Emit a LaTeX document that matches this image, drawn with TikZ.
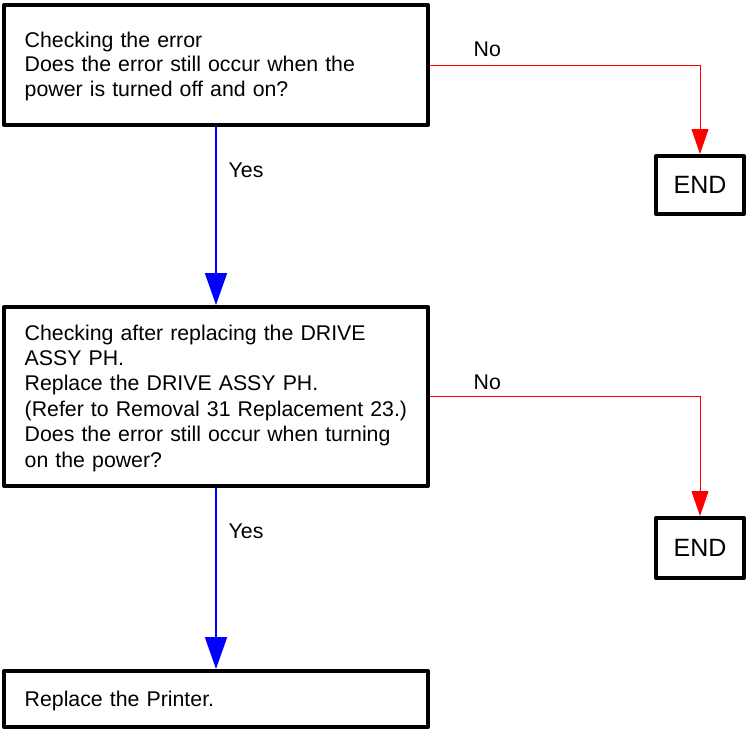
\documentclass[tikz,border=0pt]{standalone}
\usepackage{fontspec}
\setmainfont{Liberation Sans}
\usetikzlibrary{arrows.meta}
\begin{document}
\begin{tikzpicture}[x=1pt,y=-1pt,
  box/.style={draw=black,line width=4pt,fill=white,inner sep=0pt,rectangle,line join=round},
  endbox/.style={box,minimum width=88pt,font=\fontsize{25}{30}\selectfont},
  txt/.style={anchor=base west,inner sep=0pt,align=left,text width=400pt},
  lbl/.style={anchor=base west,inner sep=0pt},
  yesarrow/.style={draw=blue,line width=2pt,-{Triangle[width=22pt,length=32pt]}},
  noarrow/.style={draw=red,line width=1pt,-{Triangle[width=17pt,length=25pt]}},
  every node/.style={font=\fontsize{21.3}{24.5}\selectfont}]
\useasboundingbox (0,0) rectangle (746,731);
% boxes
\node[box,minimum width=424pt,minimum height=120pt] (b1) at (216,65) {};
\node[box,minimum width=424pt,minimum height=179pt] (b2) at (216,396.5) {};
\node[box,minimum width=424pt,minimum height=56pt] (b3) at (216,699) {};
\node[endbox,minimum height=58pt] (e1) at (700,185) {END};
\node[endbox,minimum height=60pt] (e2) at (700,548) {END};
% texts
\node[txt] (t1) at (24.5,47) {Checking the error\\Does the error still occur when the\\power is turned off and on?};
\node[txt,font=\fontsize{21.3}{25.4}\selectfont] (t2) at (24.5,340) {Checking after replacing the DRIVE\\ASSY PH.\\Replace the DRIVE ASSY PH.\\(Refer to Removal 31 Replacement 23.)\\Does the error still occur when turning\\on the power?};
\node[txt] (t3) at (24.5,706) {Replace the Printer.};
% connectors
\draw[yesarrow] (b1.south) -- (b2.north);
\draw[yesarrow] (b2.south) -- (b3.north);
\draw[noarrow] (b1.east) -| (e1.north);
\draw[noarrow] (b2.east) -| (e2.north);
% labels
\node[lbl] (y1) at (228.5,177) {Yes};
\node[lbl] (y2) at (228.5,538) {Yes};
\node[lbl] (n1) at (473.5,56) {No};
\node[lbl] (n2) at (473.5,389) {No};
\end{tikzpicture}
\end{document}
